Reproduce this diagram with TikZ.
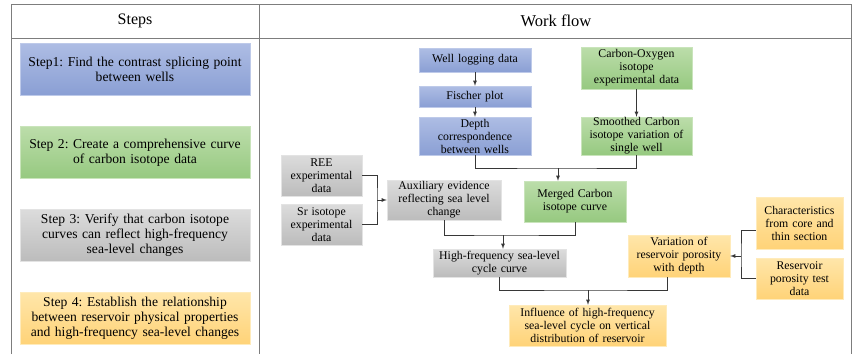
\documentclass[tikz,border=0pt]{standalone}
\usepackage{fontspec}
\setmainfont{Liberation Serif}
\usetikzlibrary{positioning}
\frenchspacing

% couleurs des boites
\definecolor{bleuH}{RGB}{174,189,228}
\definecolor{bleuB}{RGB}{138,159,212}
\definecolor{vertH}{RGB}{188,221,170}
\definecolor{vertB}{RGB}{150,201,128}
\definecolor{grisH}{RGB}{220,220,220}
\definecolor{grisB}{RGB}{188,188,188}
\definecolor{orH}{RGB}{255,230,170}
\definecolor{orB}{RGB}{255,211,120}
\definecolor{cadre}{RGB}{125,125,125}
\definecolor{trait}{RGB}{55,55,55}

\tikzset{
  boite/.style={draw=white!70!black, line width=0.4pt, align=center, inner sep=0.5pt,
    font=\fontsize{11.8}{13}\selectfont},
  etape/.style={boite, minimum width=230, text width=228, minimum height=52,
    font=\fontsize{13.6}{15.2}\selectfont},
  bleu/.style={top color=bleuH, bottom color=bleuB, draw=bleuH!80!white},
  vert/.style={top color=vertH, bottom color=vertB, draw=vertH!80!white},
  gris/.style={top color=grisH, bottom color=grisB, draw=grisH!80!white},
  orange/.style={top color=orH, bottom color=orB, draw=orH!80!white},
  fleche/.style={-latex, draw=trait, line width=0.8pt},
  lien/.style={draw=trait, line width=0.8pt}
}

\begin{document}
\begin{tikzpicture}[x=1pt, y=-1pt]
  \useasboundingbox (0,0) rectangle (855,354);

  % tableau : cadre et en-tetes
  \draw[cadre, line width=0.9pt] (11,354) -- (11,4) -- (851,4) -- (851,354);
  \draw[cadre, line width=0.9pt] (11,38) -- (851,38);
  \draw[cadre, line width=0.9pt] (259,4) -- (259,354);
  \node[font=\fontsize{16}{18}\selectfont] (titreA) at (135,21) {Steps};
  \node[font=\fontsize{16.5}{18}\selectfont] (titreB) at (556,21) {Work flow};

  % colonne des etapes
  \node[etape, bleu] (etape1) at (135,69) {Step1: Find the contrast splicing point\\between wells};
  \node[etape, vert] (etape2) at (135,152.5) {Step 2: Create a comprehensive curve\\of carbon isotope data};
  \node[etape, gris] (etape3) at (135,235) {Step 3: Verify that carbon isotope\\curves can reflect high-frequency\\sea-level changes};
  \node[etape, orange] (etape4) at (135,318) {Step 4: Establish the relationship\\between reservoir physical properties\\and high-frequency sea-level changes};

  % branche diagraphie (bleu)
  \node[boite, bleu, minimum width=112, text width=110, minimum height=24] (diag) at (475,60) {Well logging data};
  \node[boite, bleu, minimum width=112, text width=110, minimum height=21] (fischer) at (475,96.5) {Fischer plot};
  \node[boite, bleu, minimum width=112, text width=110, minimum height=38] (prof) at (475,136) {Depth\\correspondence\\between wells};

  % branche isotopes du carbone (vert)
  \node[boite, vert, minimum width=111, text width=109, minimum height=42] (co) at (636.5,68) {Carbon-Oxygen\\isotope\\experimental data};
  \node[boite, vert, minimum width=111, text width=109, minimum height=38] (lisse) at (636.5,136) {Smoothed Carbon\\isotope variation of\\single well};
  \node[boite, vert, minimum width=102, text width=100, minimum height=41] (fusion) at (575,201.5) {Merged Carbon\\isotope curve};

  % donnees auxiliaires (gris)
  \node[boite, gris, minimum width=81, text width=79, minimum height=41] (ree) at (321.5,175.5) {REE\\experimental\\data};
  \node[boite, gris, minimum width=81, text width=79, minimum height=41] (sr) at (321.5,224.5) {Sr isotope\\experimental\\data};
  \node[boite, gris, minimum width=114, text width=112, minimum height=40] (aux) at (444,200) {Auxiliary evidence\\reflecting sea level\\change};
  \node[boite, gris, minimum width=133, text width=131, minimum height=28] (cycle) at (499.5,263) {High-frequency sea-level\\cycle curve};

  % reservoir (orange)
  \node[boite, orange, minimum width=102, text width=100, minimum height=42] (poro) at (679,256) {Variation of\\reservoir porosity\\with depth};
  \node[boite, orange, minimum width=87, text width=85, minimum height=52] (carac) at (799.5,223) {Characteristics\\from core and\\thin section};
  \node[boite, orange, minimum width=87, text width=85, minimum height=41] (test) at (799.5,278.5) {Reservoir\\porosity test\\data};
  \node[boite, orange, minimum width=157, text width=155, minimum height=41] (influ) at (587.5,325.5) {Influence of high-frequency\\sea-level cycle on vertical\\distribution of reservoir};

  % points de jonction
  \coordinate (j1) at (558,168);
  \coordinate (j2) at (377,200);
  \coordinate (j3) at (503,235);
  \coordinate (j4) at (588,290);
  \coordinate (j5) at (741,256);

  % liaisons
  \draw[fleche] (diag) -- (fischer);
  \draw[fleche] (fischer) -- (prof);
  \draw[fleche] (co) -- (lisse);
  \draw[lien] (prof.south) |- (j1) -| (lisse.south);
  \draw[fleche] (j1) -- (fusion.north -| j1);
  \draw[lien] (ree.east) -| (j2) |- (sr.east);
  \draw[fleche] (j2) -- (aux.west);
  \draw[lien] (aux.south) |- (j3) -| (fusion.south);
  \draw[fleche] (j3) -- (cycle.north -| j3);
  \draw[lien] (cycle.south) |- (j4) -| ([xshift=-12pt]poro.south);
  \draw[fleche] (j4) -- (influ.north -| j4);
  \draw[lien] ([yshift=-7pt]carac.west) -| (j5) |- (test.west);
  \draw[fleche] (j5) -- (poro.east);
\end{tikzpicture}
\end{document}
